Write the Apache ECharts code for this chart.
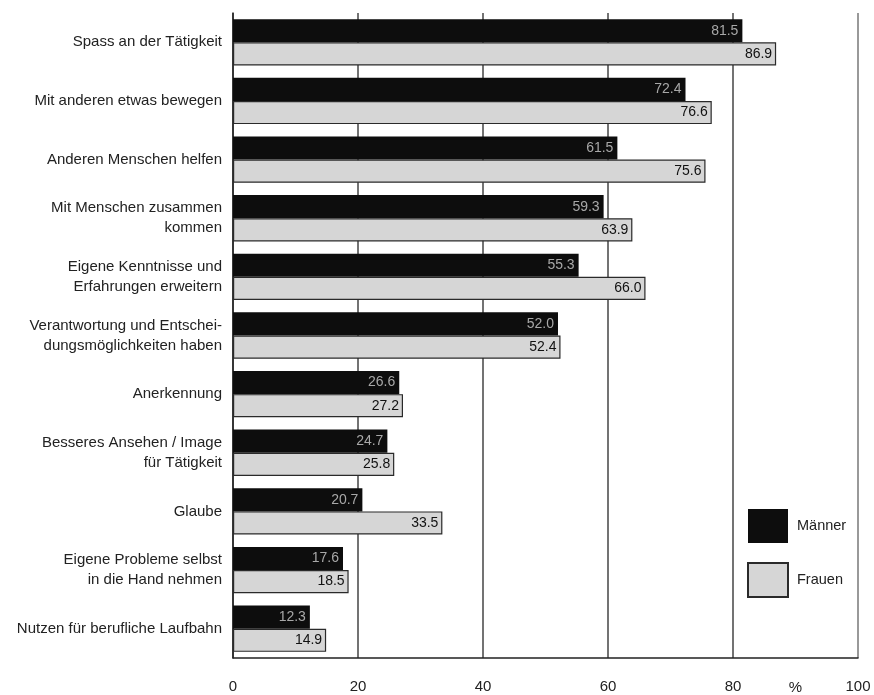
<!DOCTYPE html>
<html><head><meta charset="utf-8">
<script src="https://cdn.jsdelivr.net/npm/echarts@6/dist/echarts.min.js"></script>
<style>html,body{margin:0;padding:0;background:#fff}#c{width:874px;height:695px}</style>
</head><body><div id="c"></div>
<script>
const categories = [
  "Spass an der Tätigkeit",
  "Mit anderen etwas bewegen",
  "Anderen Menschen helfen",
  "Mit Menschen zusammen\nkommen",
  "Eigene Kenntnisse und\nErfahrungen erweitern",
  "Verantwortung und Entschei-\ndungsmöglichkeiten haben",
  "Anerkennung",
  "Besseres Ansehen / Image\nfür Tätigkeit",
  "Glaube",
  "Eigene Probleme selbst\nin die Hand nehmen",
  "Nutzen für berufliche Laufbahn"
];
const maenner = [81.5, 72.4, 61.5, 59.3, 55.3, 52.0, 26.6, 24.7, 20.7, 17.6, 12.3];
const frauen  = [86.9, 76.6, 75.6, 63.9, 66.0, 52.4, 27.2, 25.8, 33.5, 18.5, 14.9];
const seriesNames = ["Männer", "Frauen"];
const xTicks = [0, 20, 40, 60, 80, 100];
const unitLabel = "%";

const FONT = "'Liberation Sans', Arial, sans-serif";
const chart = echarts.init(document.getElementById('c'));
const option = {
  animation: false,
  backgroundColor: '#fff',
  textStyle: { fontFamily: FONT },
  grid: { left: 233, right: 16, top: 13, bottom: 37 },
  legend: {
    orient: 'vertical', left: 742, top: 504, itemWidth: 40, itemHeight: 34, itemGap: 19,
    icon: 'rect',
    data: seriesNames,
    textStyle: { fontFamily: FONT, fontSize: 14.5, color: '#222', padding: [0, 0, 0, 4] }
  },
  xAxis: {
    type: 'value', min: xTicks[0], max: xTicks[xTicks.length - 1], interval: 20,
    axisLine: { show: true, lineStyle: { color: '#222', width: 1.5 } },
    axisTick: { show: false },
    axisLabel: { margin: 21, fontSize: 15, color: '#222', fontFamily: FONT },
    splitLine: { show: true, lineStyle: { color: ['#444', '#444', '#444', '#444', '#444', '#777'], width: 1.5 } }
  },
  yAxis: {
    type: 'category', data: categories, inverse: true,
    axisLine: { show: true, lineStyle: { color: '#222', width: 1.5 } },
    axisTick: { show: false },
    axisLabel: { margin: 11, fontSize: 15, color: '#222', lineHeight: 20, fontFamily: FONT, align: 'right' }
  },
  series: [
    {
      name: seriesNames[0], type: 'bar', data: maenner, barGap: '0%', barCategoryGap: '21%',
      itemStyle: { color: '#0d0d0d' },
      label: { show: true, position: 'insideRight', distance: 4, color: '#a8a8a8', fontSize: 14, fontFamily: FONT,
        formatter: p => p.value.toFixed(1) }
    },
    {
      name: seriesNames[1], type: 'bar', data: frauen,
      itemStyle: { color: '#d6d6d6', borderColor: '#2a2a2a', borderWidth: 1.2 },
      label: { show: true, position: 'insideRight', distance: 4, color: '#111', fontSize: 14, fontFamily: FONT,
        formatter: p => p.value.toFixed(1) }
    }
  ]
};
chart.setOption(option);
const px = chart.convertToPixel({ xAxisIndex: 0 }, 90);
chart.setOption({
  graphic: [{
    type: 'text', x: px, y: 680,
    style: { text: unitLabel, fill: '#222', font: '15px ' + FONT, textAlign: 'center', textVerticalAlign: 'top' }
  }]
});
</script></body></html>
